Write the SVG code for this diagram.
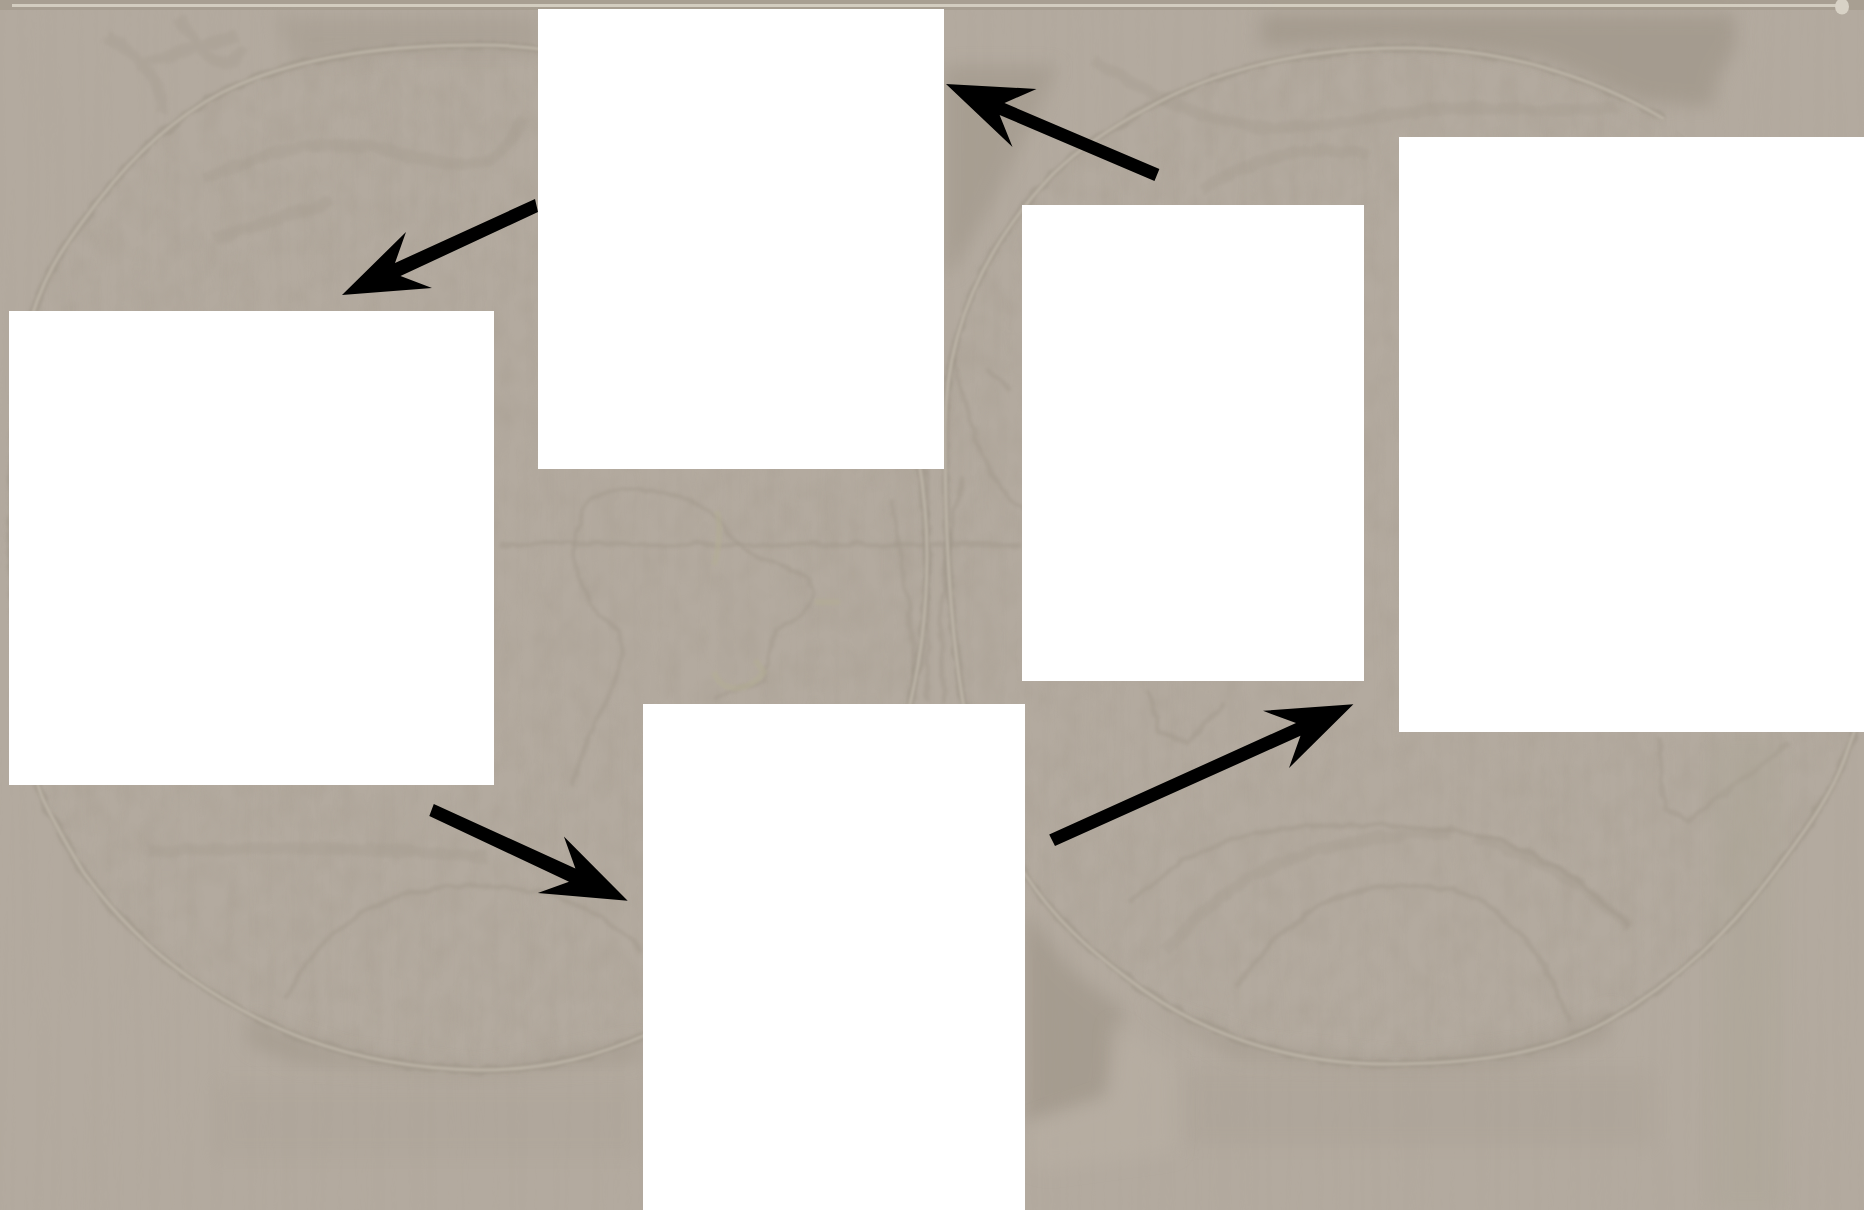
<svg xmlns="http://www.w3.org/2000/svg" width="1864" height="1210" viewBox="0 0 1864 1210">
<style>
.box{fill:#fff}
.arrow{fill:#000}
.d{fill:#a0978a;filter:url(#b8)}
.ringd{fill:none;stroke:#9f9689;stroke-width:8;opacity:.6;filter:url(#rough)}
.ringl{fill:none;stroke:#bdb5a8;stroke-width:3;opacity:.9;filter:url(#b1)}
.m{fill:none;stroke:#a0978a;stroke-width:4;opacity:.45;filter:url(#rough)}
.t{fill:none;stroke:#a1988b;stroke-width:10;opacity:.28;filter:url(#rough)}
.y{fill:none;stroke:#b3ad94;stroke-width:6;opacity:.55;filter:url(#b1)}
</style>
<defs>
<filter id="b1" x="-10%" y="-10%" width="120%" height="120%"><feGaussianBlur stdDeviation="1"/></filter>
<filter id="b8" x="-20%" y="-20%" width="140%" height="140%"><feGaussianBlur stdDeviation="7"/></filter>
<filter id="rough" filterUnits="userSpaceOnUse" x="0" y="0" width="1864" height="1210">
<feTurbulence type="fractalNoise" baseFrequency=".06" numOctaves="2" seed="7" result="n"/>
<feDisplacementMap in="SourceGraphic" in2="n" scale="7" xChannelSelector="R" yChannelSelector="G"/>
<feGaussianBlur stdDeviation="1.400"/>
</filter>
<filter id="mottle" filterUnits="userSpaceOnUse" x="0" y="0" width="1864" height="1210" color-interpolation-filters="sRGB">
<feTurbulence type="fractalNoise" baseFrequency=".05 .035" numOctaves="3" seed="4"/>
<feColorMatrix type="matrix" values="0 0 0 0 .58  0 0 0 0 .54  0 0 0 0 .48  1.3 0 0 0 -.5"/>
<feGaussianBlur stdDeviation="1.500"/>
</filter>
<filter id="streak" filterUnits="userSpaceOnUse" x="0" y="0" width="1864" height="1210" color-interpolation-filters="sRGB">
<feTurbulence type="fractalNoise" baseFrequency=".12 .004" numOctaves="2" seed="11"/>
<feColorMatrix type="matrix" values="0 0 0 0 .62  0 0 0 0 .58  0 0 0 0 .52  .7 0 0 0 -.3"/>
</filter>
<clipPath id="globes">
<path d="M480 45C380 45 290 58 221 93C170 120 130 160 99 200C60 250 40 280 25 340C5 420 5 700 42 797C55 825 70 850 84 873C115 915 150 950 189 977C250 1020 340 1068 480 1070C550 1070 600 1055 650 1033C800 970 927 800 927 555C927 350 800 45 480 45Z"/>
<path d="M1403 48C1300 48 1210 72 1146 109C1110 128 1080 148 1053 174C985 245 945 330 945 430C945 640 965 790 1025 874C1055 920 1090 950 1127 978C1200 1035 1290 1064 1386 1064C1470 1064 1545 1055 1606 1022C1680 980 1730 930 1771 876C1810 825 1835 790 1848 749L1880 660V300L1664 119C1590 75 1500 48 1403 48Z"/>
</clipPath>
</defs>
<g id="background">
<rect width="1864" height="1210" fill="#b3aa9f"/>
<rect width="1864" height="1210" filter="url(#streak)" opacity=".18"/>
<rect width="1864" height="10" fill="#a89f92"/>
<g clip-path="url(#globes)"><rect width="1864" height="1210" filter="url(#mottle)" opacity=".2"/></g>
<g transform="scale(1.1888)">
<path class="d" opacity=".75" d="M1060 12H1460V40L1445 65L1440 90L1380 85L1300 50L1180 35L1060 40Z"/>
<path class="d" opacity=".4" d="M230 14H452V45H340L250 55Z"/>
<path class="d" opacity=".6" d="M794 55H890L870 100L830 180L800 230H794Z"/>
<path class="d" opacity=".7" d="M862 765L900 815L945 850L930 925L862 945Z"/>
<path class="d" opacity=".55" d="M205 855L290 885L400 900L540 875V892L400 906L250 895L210 880Z"/>
<path class="d" opacity=".55" d="M960 845L1060 880L1180 893L1290 880L1360 848L1350 875L1280 895L1180 900L1040 890Z"/>
<path class="d" opacity=".13" d="M180 910H540V975H180Z"/>
<path class="d" opacity=".18" d="M995 900H1390V965H995Z"/>
<path d="M865 945L935 920V860L990 895V970L880 985L865 980Z" fill="#b9b0a4" opacity=".5" filter="url(#b8)"/>
<path class="t" d="M90 30C120 50 140 70 135 95M150 15C170 45 190 70 205 40M115 55L200 30"/>
<path class="t" d="M170 150C230 130 260 110 340 130S420 130 440 100M180 200L280 170"/>
<path class="t" d="M920 50C1000 100 1050 120 1150 100S1290 100 1360 90M1010 160C1060 130 1100 120 1150 130"/>
<path class="m" d="M420 458H860"/>
<path class="m" opacity=".6" d="M780 395V590"/>
<path class="m" opacity=".25" d="M750 420C760 480 770 540 770 590M810 400C790 470 790 540 795 590"/>
<path class="m" d="M800 300C815 340 820 400 860 430M830 310L850 330"/>
<path class="m" d="M965 580L975 615L1000 625L1030 590"/>
<path class="m" d="M1395 620L1400 680L1420 690L1505 625"/>
<path class="m" opacity=".3" d="M240 840C270 780 320 745 400 745S520 780 540 800"/>
<path class="m" opacity=".3" d="M950 760C1010 700 1080 690 1180 695S1320 730 1370 780"/>
<path class="m" opacity=".3" d="M1040 830C1090 760 1130 745 1190 745S1290 780 1320 860"/>
<path class="t" d="M125 716C220 712 330 712 410 722"/>
<path class="t" d="M980 800C1040 730 1100 705 1220 700"/>
<path class="t" d="M1240 705C1300 720 1340 750 1370 780"/>
<path d="M1440 620V1018H1500V620Z" fill="#aca696" opacity=".35" filter="url(#b8)"/>
</g>
<path class="m" d="M585 505C595 495 605 491 616 491C635 489 650 489 663 493C685 497 700 503 710 511C725 525 730 540 741 548C755 555 765 558 775 563C790 568 800 572 807 578L813 595C810 608 805 613 798 618L778 628C772 640 770 650 768 658L764 681L714 698M585 505C578 525 574 540 575 551C575 565 578 575 582 585C588 600 592 608 599 615L619 631C622 645 622 655 619 668C615 682 612 690 606 701C600 712 595 722 589 735C583 750 578 768 572 785"/>
<path class="y" d="M717 511C721 525 719 550 714 565M815 602H840M714 672C722 695 750 692 764 672L755 660"/>
<path class="ringd" d="M480 45C380 45 290 58 221 93C170 120 130 160 99 200C60 250 40 280 25 340C5 420 5 700 42 797C55 825 70 850 84 873C115 915 150 950 189 977C250 1020 340 1068 480 1070C550 1070 600 1055 650 1033C800 970 927 800 927 555C927 350 800 45 480 45Z"/>
<path class="ringl" d="M480 45C380 45 290 58 221 93C170 120 130 160 99 200C60 250 40 280 25 340C5 420 5 700 42 797C55 825 70 850 84 873C115 915 150 950 189 977C250 1020 340 1068 480 1070C550 1070 600 1055 650 1033C800 970 927 800 927 555C927 350 800 45 480 45Z"/>
<path class="ringd" d="M1403 48C1300 48 1210 72 1146 109C1110 128 1080 148 1053 174C985 245 945 330 945 430C945 640 965 790 1025 874C1055 920 1090 950 1127 978C1200 1035 1290 1064 1386 1064C1470 1064 1545 1055 1606 1022C1680 980 1730 930 1771 876C1810 825 1835 790 1848 749L1880 660M1403 48C1500 48 1590 75 1664 119"/>
<path class="ringl" d="M1403 48C1300 48 1210 72 1146 109C1110 128 1080 148 1053 174C985 245 945 330 945 430C945 640 965 790 1025 874C1055 920 1090 950 1127 978C1200 1035 1290 1064 1386 1064C1470 1064 1545 1055 1606 1022C1680 980 1730 930 1771 876C1810 825 1835 790 1848 749L1880 660M1403 48C1500 48 1590 75 1664 119"/>
<path d="M12 5.500H1840" stroke="#d3cdc0" stroke-width="3" fill="none"/>
<ellipse cx="1842" cy="6.500" rx="7" ry="8" fill="#d8d2c6"/>
</g>
<g id="node-top"><rect class="box" x="538" y="9" width="406" height="460"/></g>
<g id="node-left"><rect class="box" x="9" y="311" width="485" height="474"/></g>
<g id="node-middle"><rect class="box" x="1022" y="205" width="342" height="476"/></g>
<g id="node-right"><rect class="box" x="1399" y="137" width="465" height="595"/></g>
<g id="node-bottom"><rect class="box" x="643" y="704" width="382" height="506"/></g>
<g id="connectors">
<polygon class="arrow" points="535,199 538,212 400.500,276 432,288 342,295 406,232 395,263"/>
<polygon class="arrow" points="1159.400,169 1154.500,181 999.600,115 1012.500,147 946,84 1036.500,89 1004.500,103"/>
<polygon class="arrow" points="433.800,804 429.300,816 569,881.800 537.800,893 627.700,900.800 563.900,836.500 575.400,868.600"/>
<polygon class="arrow" points="1049.200,834.500 1055,846 1300.500,735.800 1289,768 1353.400,704.300 1263,710.800 1296,723"/>
</g>
</svg>
